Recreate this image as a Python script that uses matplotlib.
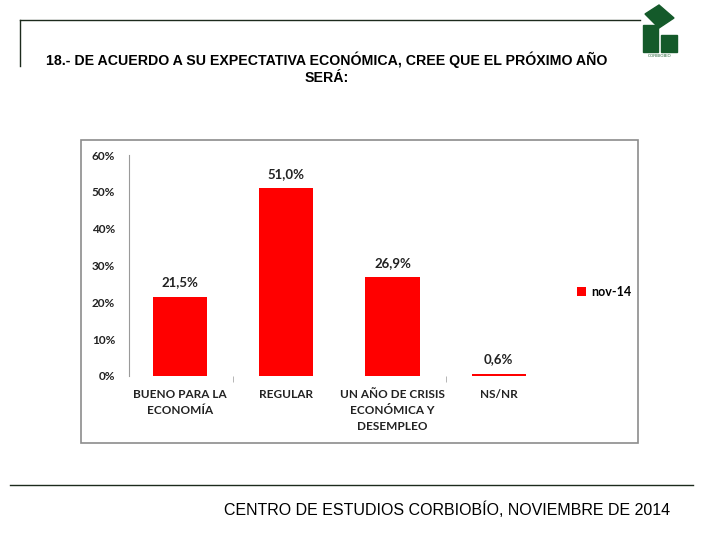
import matplotlib.pyplot as plt
from matplotlib.patches import Rectangle, Polygon
from matplotlib.lines import Line2D

categories = ["BUENO PARA LA\nECONOMÍA", "REGULAR", "UN AÑO DE CRISIS\nECONÓMICA Y\nDESEMPLEO", "NS/NR"]
values = [21.5, 51.0, 26.9, 0.6]
value_labels = ["21,5%", "51,0%", "26,9%", "0,6%"]
series_name = "nov-14"
yticks = [0, 10, 20, 30, 40, 50, 60]

W, H = 720, 540
fig = plt.figure(figsize=(7.2, 5.4), dpi=100)


def fx(x):
    return x / W


def fy(y):
    return 1 - y / H


# page decorations
line_col = "#1c2a1c"
fig.add_artist(Line2D([fx(20), fx(640)], [fy(20), fy(20)], color=line_col, lw=1))
fig.add_artist(Line2D([fx(20), fx(20)], [fy(20), fy(66)], color=line_col, lw=1))
fig.add_artist(Line2D([fx(10), fx(693)], [fy(485), fy(485)], color=line_col, lw=1))

# logo
green = "#145a2a"
fig.add_artist(Polygon([(fx(645), fy(14)), (fx(659), fy(5)), (fx(674), fy(18)), (fx(659), fy(28))],
                       closed=True, color=green))
fig.add_artist(Rectangle((fx(643), fy(52)), fx(15), 27 / H, color=green))
fig.add_artist(Rectangle((fx(661), fy(52)), fx(16), 17 / H, color=green))
fig.text(fx(660), fy(56), "CORBIOBIO", fontsize=3, ha="center", va="center",
         color=green, family="Liberation Sans")

# title
fig.text(fx(327), fy(60), "18.- DE ACUERDO A SU EXPECTATIVA ECONÓMICA, CREE QUE EL PRÓXIMO AÑO",
         ha="center", va="center", fontsize=10.2, fontweight="bold", family="Liberation Sans")
fig.text(fx(327), fy(78), "SERÁ:", ha="center", va="center", fontsize=10.2,
         fontweight="bold", family="Liberation Sans")

# footer
fig.text(fx(670), fy(510), "CENTRO DE ESTUDIOS CORBIOBÍO, NOVIEMBRE DE 2014",
         ha="right", va="center", fontsize=11.5, family="Liberation Sans")

# chart border
fig.add_artist(Rectangle((fx(81), fy(443)), fx(638 - 81), (443 - 140) / H,
                         fill=False, edgecolor="#8c8c8c", lw=1.2))

ax = fig.add_axes([fx(129), fy(376), fx(554 - 129), (376 - 155) / H])
x = list(range(len(categories)))
bars = ax.bar(x, values, width=0.51, color="#ff0000", label=series_name)
ax.set_xlim(-0.48, 3.52)
ax.set_ylim(0, 60)

for xi, v, lab in zip(x, values, value_labels):
    ax.annotate(lab, (xi, v), xytext=(0, 6), textcoords="offset points",
                ha="center", va="bottom", fontsize=9.5, fontweight="bold",
                family="Lato", color="#222222")

ax.set_yticks(yticks)
ax.set_yticklabels([f"{t}%" for t in yticks], fontsize=8.5, fontweight="bold",
                   family="Lato", color="#222222")
ax.tick_params(axis="y", length=0, pad=10)
ax.set_xticks(x)
ax.set_xticklabels(categories, fontsize=8.5, fontweight="bold", family="Lato",
                   color="#222222", linespacing=1.6, va="top")
ax.tick_params(axis="x", length=0, pad=9)
ax.set_xticks([0.5, 2.5], minor=True)
ax.tick_params(axis="x", which="minor", length=4, color="#aaaaaa", direction="out")

for s in ["top", "right", "bottom"]:
    ax.spines[s].set_visible(False)
ax.spines["left"].set_color("#9a9a9a")

fig.legend(handles=[bars], labels=[series_name], loc="center left",
           bbox_to_anchor=(fx(566), fy(292)), frameon=False,
           handlelength=0.7, handleheight=0.7, handletextpad=0.4,
           prop={"family": "Lato", "weight": "bold", "size": 9})

fig.savefig("out.png", dpi=100)
